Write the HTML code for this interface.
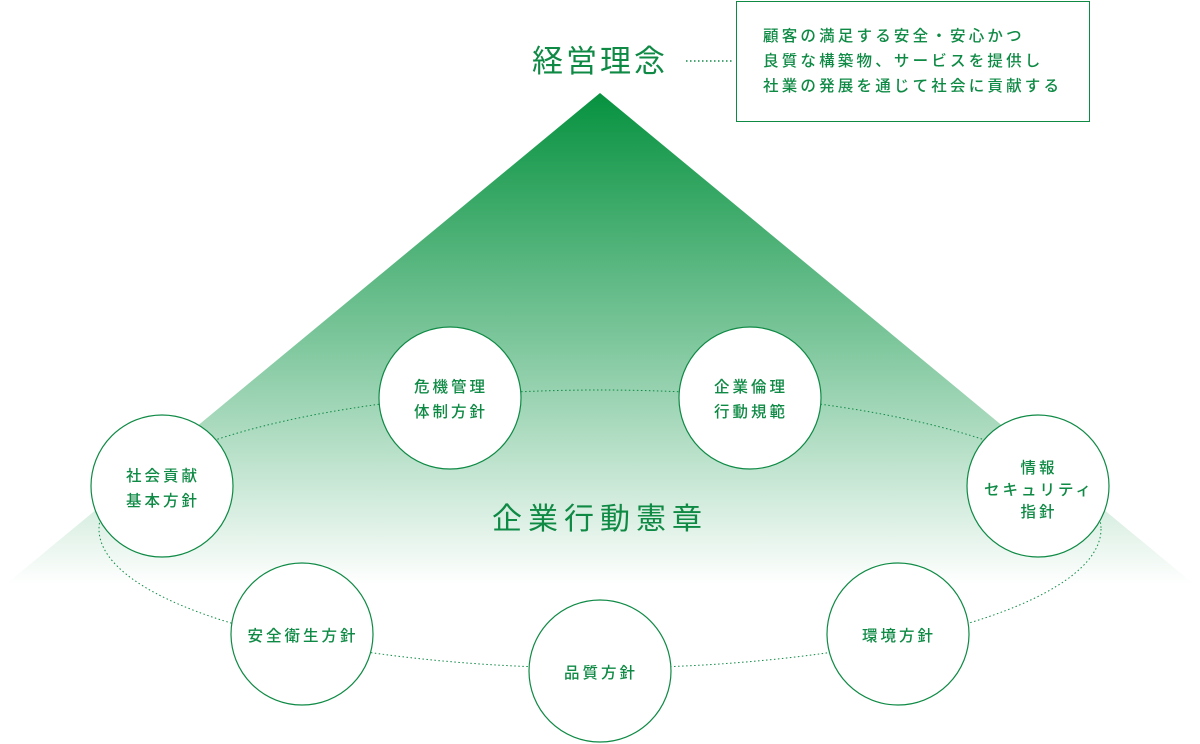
<!DOCTYPE html>
<html><head><meta charset="utf-8"><style>
html,body{margin:0;padding:0;background:#fff;}
svg{display:block;}
text{font-family:"Liberation Sans","Noto Sans CJK JP",sans-serif;fill:#0f8a45;}
</style></head><body>
<svg width="1200" height="744" viewBox="0 0 1200 744" xmlns="http://www.w3.org/2000/svg">
<defs>
<linearGradient id="g" x1="0" y1="93" x2="0" y2="585" gradientUnits="userSpaceOnUse">
<stop offset="0" stop-color="#06923f"/>
<stop offset="0.5" stop-color="#7cc69b"/>
<stop offset="1" stop-color="#ffffff"/>
</linearGradient>
</defs>
<polygon points="600,93 5,585 1195,585" fill="url(#g)"/>
<ellipse cx="600" cy="529" rx="501" ry="139" fill="none" stroke="#0f8a45" stroke-width="1" stroke-dasharray="1.5 2.5"/>
<text x="600" y="72" font-size="31" text-anchor="middle" letter-spacing="3">経営理念</text>
<line x1="686" y1="61" x2="733" y2="61" stroke="#0f8a45" stroke-width="1.5" stroke-dasharray="1.5 2.5"/>
<rect x="736.5" y="1.5" width="353" height="120" fill="#fff" stroke="#0f8a45" stroke-width="1"/>
<text font-size="15.5" letter-spacing="3.2" font-weight="500"><tspan x="763" y="41">顧客の満足する安全・安心かつ</tspan><tspan x="763" y="66">良質な構築物、サービスを提供し</tspan><tspan x="763" y="91">社業の発展を通じて社会に貢献する</tspan></text>
<text x="600" y="529" font-size="30" text-anchor="middle" letter-spacing="6">企業行動憲章</text>
<g fill="#fff" stroke="#0f8a45" stroke-width="1.2">
<circle cx="450" cy="398" r="71"/>
<circle cx="750" cy="398" r="71"/>
<circle cx="162" cy="486" r="71"/>
<circle cx="1038" cy="486" r="71"/>
<circle cx="302" cy="634" r="71"/>
<circle cx="898" cy="634" r="71"/>
<circle cx="600" cy="671" r="71"/>
</g>
<g font-size="15.5" text-anchor="middle" letter-spacing="3" font-weight="500">
<text x="451" y="392">危機管理</text><text x="451" y="417">体制方針</text>
<text x="751" y="392">企業倫理</text><text x="751" y="417">行動規範</text>
<text x="163" y="481">社会貢献</text><text x="163" y="506">基本方針</text>
<text x="1039" y="473">情報</text><text x="1039" y="495">セキュリティ</text><text x="1039" y="517">指針</text>
<text x="303" y="641">安全衛生方針</text>
<text x="899" y="641">環境方針</text>
<text x="601" y="678">品質方針</text>
</g>
</svg>
</body></html>
